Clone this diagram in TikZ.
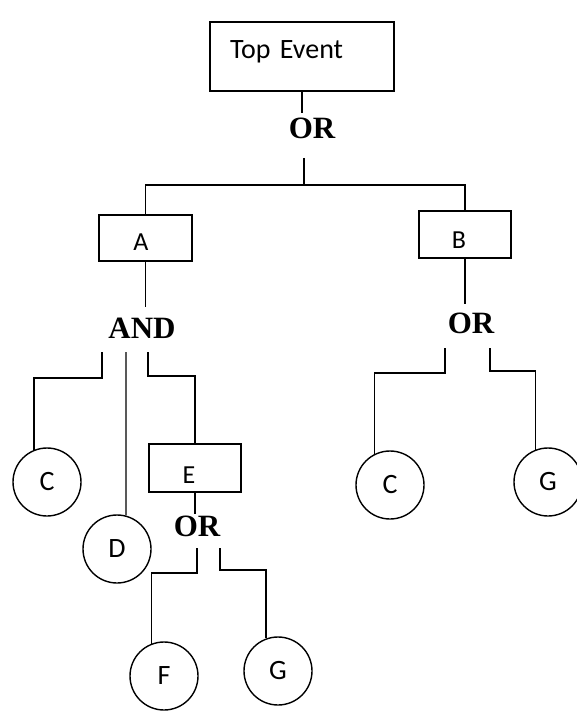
\documentclass[tikz,border=0pt]{standalone}
\usepackage{fontspec}
\setmainfont{Carlito}
\newfontfamily\gatefont{Liberation Serif}
\begin{document}
\begin{tikzpicture}[x=1pt,y=-1pt,
  every node/.style={inner sep=0pt},
  conn/.style={line width=1.4pt},
  evbox/.style={draw, rectangle, line width=1.4pt, font=\fontsize{26}{26}\selectfont},
  basic/.style={draw, circle, line width=1.4pt, minimum size=68pt, font=\fontsize{28}{28}\selectfont},
  gate/.style={font=\gatefont\bfseries\fontsize{31}{31}\selectfont}]
\useasboundingbox (0,0) rectangle (576,711);

% events
\node[evbox, minimum width=184pt, minimum height=69pt, inner xsep=20pt, text width=144pt, align=left,
      text height=20pt, text depth=16pt, font=\fontsize{28}{28}\selectfont] (top) at (302,56.5) {Top Event};
\node[gate] (or1) at (312,128) {OR};
\node[evbox, minimum width=93pt, minimum height=46pt, text height=25pt, text depth=0pt] (A) at (145.5,238) {\hspace*{-9pt}A};
\node[evbox, minimum width=92pt, minimum height=47pt, text height=28pt, text depth=0pt] (B) at (465,234.5) {\hspace*{-12pt}B};
\node[gate] (and) at (142,328) {AND};
\node[gate] (or2) at (471,323) {OR};
\node[basic] (C1) at (47,482) {C};
\node[basic] (D) at (117,549) {D};
\node[evbox, minimum width=92pt, minimum height=48pt, text height=31pt, text depth=0pt] (E) at (195,468) {\hspace*{-12pt}E};
\node[gate] (or3) at (197,526) {OR};
\node[basic] (F) at (164,676) {F};
\node[basic] (G3) at (278,671) {G};
\node[basic] (C2) at (390,485) {C};
\node[basic] (G2) at (548,482) {G};

% free ends below the gate labels
\coordinate (bar) at (304,185);
\coordinate (or1b) at (304,158);
\coordinate (andl) at (102,352);
\coordinate (andm) at (126,352);
\coordinate (andr) at (148,352);
\coordinate (or2l) at (445,348);
\coordinate (or2r) at (490,348);
\coordinate (or3l) at (197,548);
\coordinate (or3r) at (220,548);

% connectors
\draw[conn] (top.south) -- ++(0,21);
\draw[conn] (or1b) -- (bar);
\draw[conn] (A.north) -- (A.north |- bar) -| (B.north);
\draw[conn] (A.south) -- ++(0,45);
\draw[conn] (andl) -- ++(0,26) -| (C1.112);
\draw[conn] (andm) -- (D.75);
\draw[conn] (andr) -- ++(0,24) -| (E.north);
\draw[conn] (B.south) -- ++(0,45);
\draw[conn] (or2l) -- ++(0,25) -| (C2.116);
\draw[conn] (or2r) -- ++(0,23) -| (G2.111);
\draw[conn] (E.south) -- ++(0,21);
\draw[conn] (or3l) -- ++(0,25) -| (F.111);
\draw[conn] (or3r) -- ++(0,22) -| (G3.110);
\end{tikzpicture}
\end{document}
